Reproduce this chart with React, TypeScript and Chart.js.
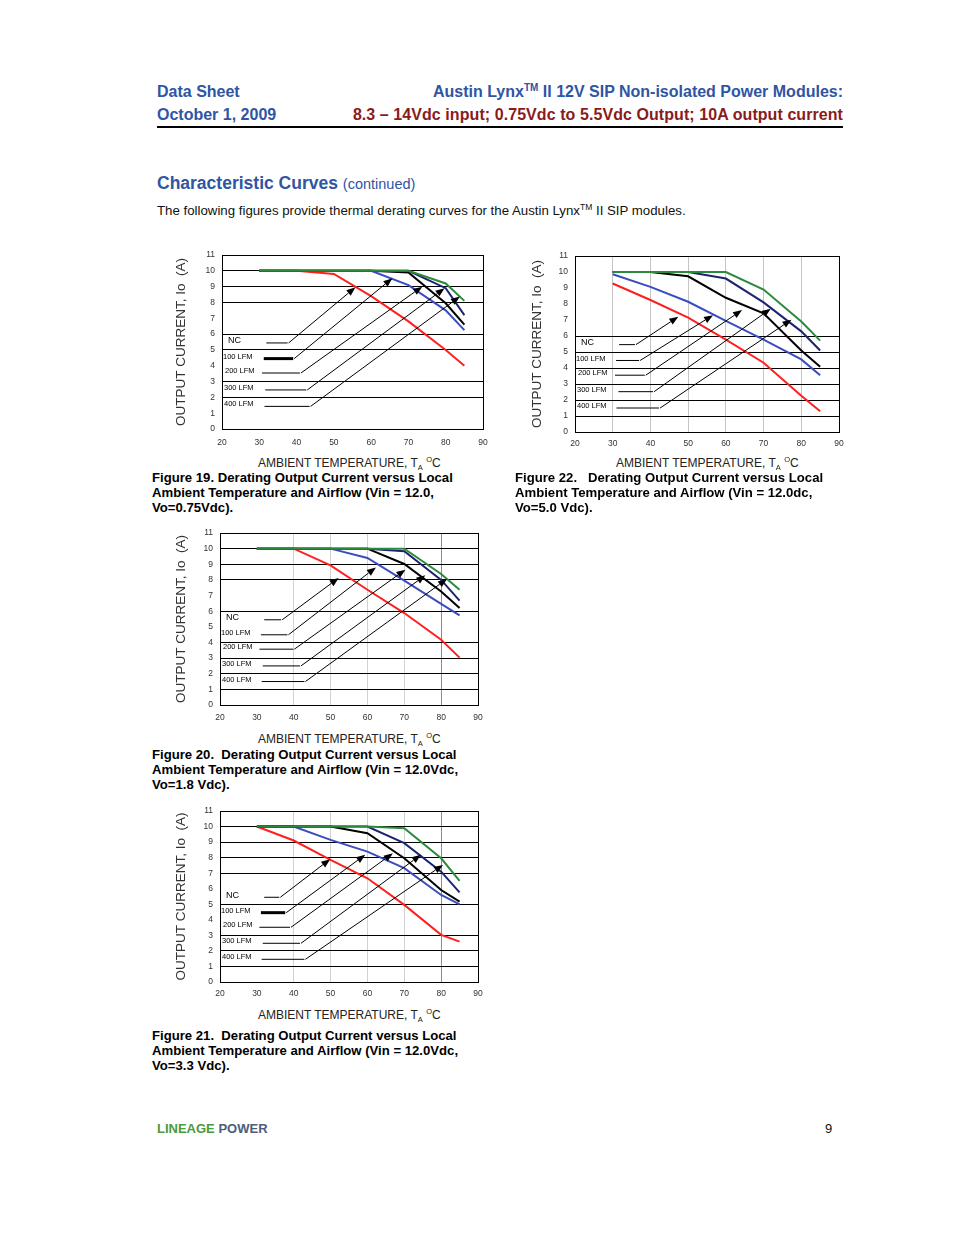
import React, { useEffect, useRef } from "react";
import { Chart, registerables } from "chart.js";

Chart.register(...registerables);

// ---------------- DATA ----------------
const temps = [30, 40, 50, 60, 70, 80, 85];
const seriesLabels = ["NC", "100 LFM", "200 LFM", "300 LFM", "400 LFM"];
const seriesColors = ["#ff1f1f", "#3a4cc0", "#000000", "#1c2470", "#2b8a3c"];

// Figure 19 (Vo = 0.75 Vdc)
const fig19NC = [10, 10, 9.8, 8.4, 6.8, 5.0, 4.0];
const fig19L100 = [10, 10, 10, 10, 9.1, 7.5, 6.25];
const fig19L200 = [10, 10, 10, 10, 9.9, 7.95, 6.6];
const fig19L300 = [10, 10, 10, 10, 10, 8.9, 7.2];
const fig19L400 = [10, 10, 10, 10, 10, 9.2, 8.1];

// Figure 22 (Vo = 5.0 Vdc)
const fig22NC = [9.28, 8.25, 7.15, 5.77, 4.33, 2.27, 1.3];
const fig22L100 = [9.86, 9.07, 8.14, 6.95, 5.77, 4.54, 3.55];
const fig22L200 = [10, 10, 9.73, 8.39, 7.42, 5.09, 4.08];
const fig22L300 = [10, 10, 10, 9.59, 8.1, 6.29, 5.09];
const fig22L400 = [10, 10, 10, 10, 8.9, 6.9, 5.71];

// Figure 20 (Vo = 1.8 Vdc)
const fig20NC = [10, 10, 8.93, 7.37, 5.88, 4.17, 3.03];
const fig20L100 = [10, 10, 10, 9.4, 7.95, 6.47, 5.73];
const fig20L200 = [10, 10, 10, 10, 9.02, 7.26, 6.2];
const fig20L300 = [10, 10, 10, 10, 9.83, 8.0, 6.67];
const fig20L400 = [10, 10, 10, 10, 10, 8.38, 7.37];

// Figure 21 (Vo = 3.3 Vdc)
const fig21NC = [10, 9.1, 7.85, 6.67, 4.96, 3.03, 2.6];
const fig21L100 = [10, 10, 9.14, 8.39, 7.32, 5.6, 5.0];
const fig21L200 = [10, 10, 10, 9.57, 7.96, 5.92, 5.17];
const fig21L300 = [10, 10, 10, 10, 8.93, 7.1, 5.77];
const fig21L400 = [10, 10, 10, 10, 9.89, 7.96, 6.5];

// Callouts: [sampleStartX, sampleEndX, sampleY, arrowTipX, arrowTipY] in data units
const fig19Callouts = [
  [31.9, 37.6, 5.44, 55.8, 8.96],
  [31.2, 39.1, 4.45, 65.7, 9.53],
  [30.7, 40.9, 3.54, 73.7, 9.0],
  [31.6, 42.6, 2.47, 79.7, 8.9],
  [31.4, 43.5, 1.43, 83.8, 8.37],
];
const fig22Callouts = [
  [31.7, 35.9, 5.46, 47.4, 7.2],
  [30.9, 37.0, 4.47, 56.6, 7.3],
  [30.6, 38.5, 3.55, 64.3, 7.62],
  [31.5, 40.7, 2.52, 71.9, 7.7],
  [31.0, 42.3, 1.5, 77.4, 7.02],
];
const fig20Callouts = [
  [32.0, 36.6, 5.45, 52.2, 8.12],
  [31.1, 38.3, 4.49, 62.3, 8.8],
  [30.7, 39.9, 3.57, 70.3, 8.65],
  [31.6, 41.7, 2.5, 75.7, 8.29],
  [31.3, 42.9, 1.5, 81.6, 8.06],
];
const fig21Callouts = [
  [32.0, 36.1, 5.45, 49.9, 7.9],
  [31.1, 37.7, 4.46, 59.4, 8.18],
  [30.7, 39.0, 3.52, 66.9, 8.28],
  [31.6, 41.7, 2.49, 74.5, 8.18],
  [31.3, 42.9, 1.46, 80.5, 7.53],
];

// Horizontal grid lines visible in each figure
const fig19HGrid = [2, 3, 5, 6, 8, 9, 10];
const fig22HGrid = [1, 2, 3, 4, 5, 6];
const fig20HGrid = [1, 2, 3, 4, 6, 8, 9, 10];
const fig21HGrid = [1, 2, 3, 5, 7, 8, 9, 10];

const FONT = '"Liberation Sans", Arial, Helvetica, sans-serif';
const labelOffsets = [6, 1, 3, 2, 2];

// ---------------- PLUGIN ----------------
const calloutPlugin = {
  id: "callouts",
  afterDatasetsDraw(chart: any, _args: any, opts: any) {
    const { ctx, chartArea } = chart;
    const xs = chart.scales.x;
    const ys = chart.scales.y;
    const items: number[][] = opts.items || [];
    ctx.save();
    ctx.strokeStyle = "#000";
    ctx.fillStyle = "#000";
    items.forEach((c, i) => {
      const [x0, x1, yy, tx, ty] = c;
      const px0 = xs.getPixelForValue(x0);
      const px1 = xs.getPixelForValue(x1);
      const py = ys.getPixelForValue(yy);
      const ptx = xs.getPixelForValue(tx);
      const pty = ys.getPixelForValue(ty);
      ctx.font = (i === 0 ? "9px " : "7.5px ") + FONT;
      ctx.textBaseline = "middle";
      ctx.textAlign = "left";
      ctx.fillText(seriesLabels[i], chartArea.left + labelOffsets[i], py - 2);
      ctx.lineWidth = i === 1 && opts.thick ? 3 : 1;
      ctx.beginPath();
      ctx.moveTo(px0, py);
      ctx.lineTo(px1, py);
      ctx.stroke();
      const ang = Math.atan2(pty - py, ptx - px1);
      const hl = 9;
      const hw = 3.5;
      const bx = ptx - hl * Math.cos(ang);
      const by = pty - hl * Math.sin(ang);
      ctx.lineWidth = 1;
      ctx.beginPath();
      ctx.moveTo(px1 + 1, py);
      ctx.lineTo(bx, by);
      ctx.stroke();
      ctx.beginPath();
      ctx.moveTo(ptx, pty);
      ctx.lineTo(bx + hw * Math.sin(ang), by - hw * Math.cos(ang));
      ctx.lineTo(bx - hw * Math.sin(ang), by + hw * Math.cos(ang));
      ctx.closePath();
      ctx.fill();
    });
    ctx.restore();
  },
};

type Fig = {
  series: number[][];
  callouts: number[][];
  hGrid: number[];
  vGrid: "none" | "light" | "mixed";
  thick: boolean;
  L: number;
  T: number;
  R: number;
  B: number;
  yw: number;
  xPad: number;
};

const PT = 16;
const PR = 18;
const XH = 24;

function DeratingChart({ fig }: { fig: Fig }) {
  const ref = useRef<HTMLCanvasElement | null>(null);
  const w = fig.R - fig.L + fig.yw + PR;
  const h = fig.B - fig.T + PT + XH;
  useEffect(() => {
    if (!ref.current) return;
    const order = [4, 3, 2, 1, 0];
    const chart = new Chart(ref.current, {
      type: "line",
      data: {
        datasets: order.map((i) => ({
          label: seriesLabels[i],
          data: temps.map((t, k) => ({ x: t, y: fig.series[i][k] })),
          borderColor: seriesColors[i],
          backgroundColor: seriesColors[i],
          borderWidth: 2,
          pointRadius: 0,
          tension: 0,
          fill: false,
        })),
      },
      options: {
        animation: false,
        responsive: false,
        devicePixelRatio: 1,
        layout: { padding: { top: PT, right: PR, left: 0, bottom: 0 } },
        plugins: {
          legend: { display: false },
          tooltip: { enabled: false },
          callouts: { items: fig.callouts, thick: fig.thick },
        } as any,
        scales: {
          x: {
            type: "linear",
            min: 20,
            max: 90,
            ticks: { stepSize: 10, color: "#333", font: { family: FONT, size: 8.5 }, padding: fig.xPad },
            grid: {
              drawTicks: false,
              lineWidth: 1,
              color: (ctx: any) => {
                const v = ctx.tick ? ctx.tick.value : null;
                if (v === 90) return "#000";
                if (v === 20) return "#000";
                if (fig.vGrid === "light" && v >= 30 && v <= 80) return "#c4c4c4";
                if (fig.vGrid === "mixed") {
                  if (v === 80) return "#8c8c8c";
                  if (v >= 40 && v <= 70) return "#d2d2d2";
                }
                return "rgba(0,0,0,0)";
              },
            },
            border: { display: true, color: "#000", width: 1 },
            afterFit: (s: any) => {
              s.height = XH;
            },
          },
          y: {
            min: 0,
            max: 11,
            ticks: { stepSize: 1, color: "#333", font: { family: FONT, size: 8.5 }, padding: 7 },
            grid: {
              drawTicks: false,
              lineWidth: 1,
              color: (ctx: any) => {
                const v = ctx.tick ? ctx.tick.value : null;
                if (v === 11 || v === 0) return "#000";
                return fig.hGrid.includes(v) ? "#000" : "rgba(0,0,0,0)";
              },
            },
            border: { display: true, color: "#000", width: 1 },
            title: {
              display: true,
              text: "OUTPUT CURRENT, Io  (A)",
              color: "#333",
              font: { family: FONT, size: 13.5 },
              padding: { top: 0, bottom: 0 },
            },
            afterFit: (s: any) => {
              s.width = fig.yw;
            },
          },
        },
      } as any,
      plugins: [calloutPlugin as any],
    });
    return () => chart.destroy();
  }, []);
  return (
    <canvas
      ref={ref}
      width={w}
      height={h}
      style={{ position: "absolute", left: fig.L - fig.yw, top: fig.T - PT, width: w, height: h }}
    />
  );
}

const fig19: Fig = {
  series: [fig19NC, fig19L100, fig19L200, fig19L300, fig19L400],
  callouts: fig19Callouts,
  hGrid: fig19HGrid,
  vGrid: "none",
  thick: true,
  L: 222, T: 255, R: 483, B: 429, yw: 49, xPad: 9,
};
const fig22: Fig = {
  series: [fig22NC, fig22L100, fig22L200, fig22L300, fig22L400],
  callouts: fig22Callouts,
  hGrid: fig22HGrid,
  vGrid: "light",
  thick: false,
  L: 575, T: 256, R: 839, B: 432, yw: 46, xPad: 7,
};
const fig20: Fig = {
  series: [fig20NC, fig20L100, fig20L200, fig20L300, fig20L400],
  callouts: fig20Callouts,
  hGrid: fig20HGrid,
  vGrid: "mixed",
  thick: false,
  L: 220, T: 533, R: 478, B: 705, yw: 47, xPad: 7.5,
};
const fig21: Fig = {
  series: [fig21NC, fig21L100, fig21L200, fig21L300, fig21L400],
  callouts: fig21Callouts,
  hGrid: fig21HGrid,
  vGrid: "mixed",
  thick: true,
  L: 220, T: 811, R: 478, B: 982, yw: 47, xPad: 7,
};

const BLUE = "#2f55a4";
const RED = "#8a1b1b";

function XTitle({ left, top }: { left: number; top: number }) {
  return (
    <div style={{ position: "absolute", left, top, fontSize: 12, lineHeight: "12px", color: "#222", whiteSpace: "nowrap" }}>
      AMBIENT TEMPERATURE, T
      <span style={{ fontSize: 7.5, position: "relative", top: 3 }}>A</span>{" "}
      <span style={{ fontSize: 7.5, position: "relative", top: -5 }}>O</span>C
    </div>
  );
}

function Caption({ left, top, lines }: { left: number; top: number; lines: string[] }) {
  return (
    <div
      style={{
        position: "absolute",
        left,
        top,
        fontSize: 13.15,
        lineHeight: "15.3px",
        fontWeight: "bold",
        color: "#000",
        whiteSpace: "pre",
      }}
    >
      {lines.map((l, i) => (
        <div key={i}>{l}</div>
      ))}
    </div>
  );
}

export default function App() {
  return (
    <div
      style={{
        position: "absolute",
        left: 0,
        top: 0,
        width: 954,
        height: 1235,
        background: "#fff",
        fontFamily: FONT,
        overflow: "hidden",
      }}
    >
      {/* Header */}
      <div style={{ position: "absolute", left: 157, top: 84, fontSize: 16, lineHeight: "16px", fontWeight: "bold", color: BLUE }}>
        Data Sheet
      </div>
      <div style={{ position: "absolute", left: 157, top: 107, fontSize: 16, lineHeight: "16px", fontWeight: "bold", color: BLUE }}>
        October 1, 2009
      </div>
      <div style={{ position: "absolute", right: 111, top: 84, fontSize: 16, lineHeight: "16px", fontWeight: "bold", color: BLUE, whiteSpace: "nowrap" }}>
        Austin Lynx<span style={{ fontSize: 10, position: "relative", top: -6 }}>TM</span> II 12V SIP Non-isolated Power Modules:
      </div>
      <div style={{ position: "absolute", right: 111, top: 107, fontSize: 16, lineHeight: "16px", fontWeight: "bold", color: RED, whiteSpace: "nowrap", letterSpacing: "0.07px" }}>
        8.3 – 14Vdc input; 0.75Vdc to 5.5Vdc Output; 10A output current
      </div>
      <div style={{ position: "absolute", left: 157, top: 126, width: 686, height: 2, background: "#000" }} />

      <div style={{ position: "absolute", left: 157, top: 175, fontSize: 17.5, lineHeight: "17.5px", fontWeight: "bold", color: BLUE, whiteSpace: "nowrap" }}>
        Characteristic Curves <span style={{ fontSize: 14.5, fontWeight: "normal" }}>(continued)</span>
      </div>
      <div style={{ position: "absolute", left: 157, top: 203.5, fontSize: 13.25, lineHeight: "13px", color: "#111", whiteSpace: "nowrap" }}>
        The following figures provide thermal derating curves for the Austin Lynx
        <span style={{ fontSize: 8.5, position: "relative", top: -5 }}>TM</span> II SIP modules.
      </div>

      {/* Charts */}
      <DeratingChart fig={fig19} />
      <DeratingChart fig={fig22} />
      <DeratingChart fig={fig20} />
      <DeratingChart fig={fig21} />

      <XTitle left={258} top={457} />
      <XTitle left={616} top={457} />
      <XTitle left={258} top={733} />
      <XTitle left={258} top={1009} />

      <Caption
        left={152}
        top={469.5}
        lines={[
          "Figure 19. Derating Output Current versus Local",
          "Ambient Temperature and Airflow (Vin = 12.0,",
          "Vo=0.75Vdc).",
        ]}
      />
      <Caption
        left={515}
        top={469.5}
        lines={[
          "Figure 22.   Derating Output Current versus Local",
          "Ambient Temperature and Airflow (Vin = 12.0dc,",
          "Vo=5.0 Vdc).",
        ]}
      />
      <Caption
        left={152}
        top={746.5}
        lines={[
          "Figure 20.  Derating Output Current versus Local",
          "Ambient Temperature and Airflow (Vin = 12.0Vdc,",
          "Vo=1.8 Vdc).",
        ]}
      />
      <Caption
        left={152}
        top={1027.5}
        lines={[
          "Figure 21.  Derating Output Current versus Local",
          "Ambient Temperature and Airflow (Vin = 12.0Vdc,",
          "Vo=3.3 Vdc).",
        ]}
      />

      {/* Footer */}
      <div style={{ position: "absolute", left: 157, top: 1121.5, fontSize: 13, lineHeight: "13px", fontWeight: "bold", whiteSpace: "nowrap" }}>
        <span style={{ color: "#4b9a3c" }}>LINEAGE</span> <span style={{ color: "#4d5d7a" }}>POWER</span>
      </div>
      <div style={{ position: "absolute", left: 825, top: 1121.5, fontSize: 13, lineHeight: "13px", color: "#111" }}>9</div>
    </div>
  );
}
